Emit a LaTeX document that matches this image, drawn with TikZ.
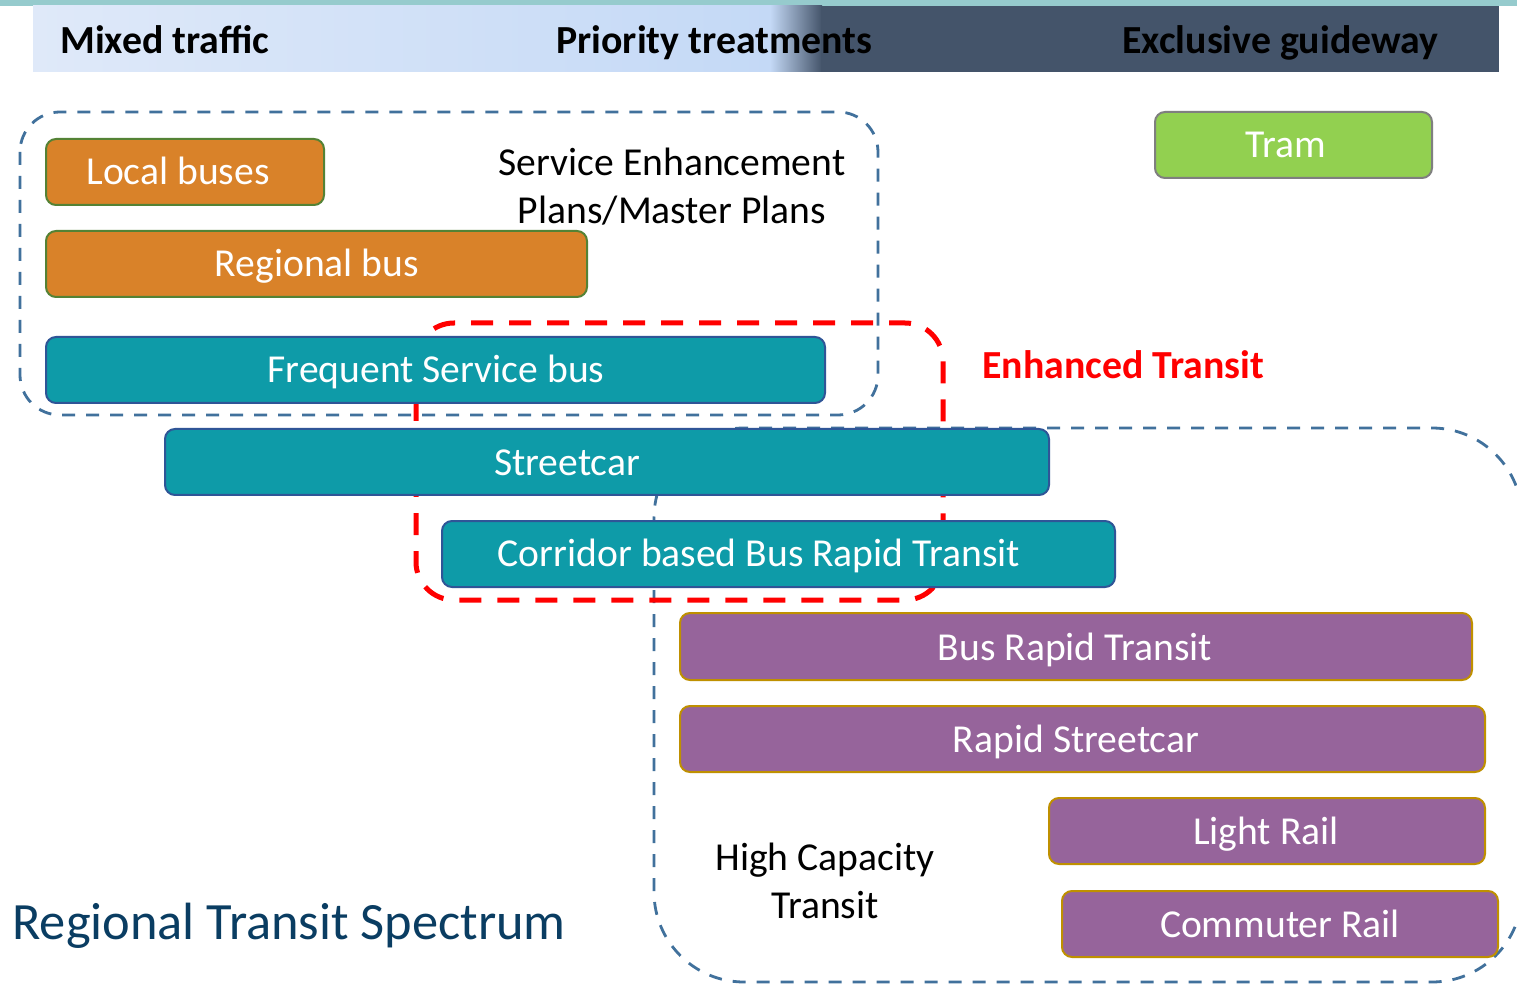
\documentclass[tikz,border=0pt]{standalone}
\usepackage{fontspec}
\setmainfont{Carlito}
\usetikzlibrary{fit}
\definecolor{hdrtop}{RGB}{150,203,205}
\definecolor{hdrA}{RGB}{223,233,249}
\definecolor{hdrB}{RGB}{196,217,246}
\definecolor{hdrdark}{RGB}{68,84,106}
\definecolor{dashblue}{RGB}{65,113,156}
\definecolor{orfill}{RGB}{217,130,41}
\definecolor{orline}{RGB}{84,130,53}
\definecolor{tlfill}{RGB}{14,155,168}
\definecolor{tlline}{RGB}{47,85,151}
\definecolor{pufill}{RGB}{150,100,155}
\definecolor{puline}{RGB}{191,144,0}
\definecolor{grfill}{RGB}{146,208,80}
\definecolor{grline}{RGB}{127,127,127}
\definecolor{titleblue}{RGB}{10,61,98}
\tikzset{
  modebox/.style={rounded corners=5pt, line width=1pt, inner sep=0pt},
  orbox/.style={modebox, fill=orfill, draw=orline},
  tlbox/.style={modebox, fill=tlfill, draw=tlline},
  pubox/.style={modebox, fill=pufill, draw=puline},
  grbox/.style={modebox, fill=grfill, draw=grline},
  boxtxt/.style={text=white, inner sep=0pt, anchor=base, font=\fontsize{19.8}{24}\selectfont},
  hdrtxt/.style={inner sep=0pt, anchor=base west, font=\fontsize{19.9}{24}\selectfont\bfseries},
  plaintxt/.style={inner sep=0pt, align=center, font=\fontsize{19.8}{24}\selectfont},
  bluedash/.style={draw=dashblue, line width=1.4pt, dash pattern=on 6.5pt off 5.5pt},
  reddash/.style={draw=red, line width=2.5pt, dash pattern=on 11pt off 8pt}
}
\begin{document}
\begin{tikzpicture}[x=0.5pt,y=-0.5pt]
\useasboundingbox (0,0) rectangle (1517,984);
\fill[white] (0,0) rectangle (1517,984);
% header band
\fill[hdrtop] (0,0) rectangle (1517,6);
\shade[left color=hdrA, right color=hdrB] (33,6) rectangle (772,72);
\shade[left color=hdrB, right color=hdrdark] (770,6) rectangle (822,72);
\fill[hdrdark] (821,6) rectangle (1499,72);
\node[hdrtxt] (hmix) at (60,54) {Mixed traffic};
\node[hdrtxt] (hpri) at (556,54) {Priority treatments};
\node[hdrtxt] (hexc) at (1122,54) {Exclusive guideway};
% groups
\draw[bluedash, rounded corners=45pt] (654,428) rectangle (1522,982);
\draw[reddash, rounded corners=19pt] (416,323) rectangle (943,600);
\draw[bluedash, rounded corners=20pt] (20,112) rectangle (878,415);
% boxes
\node[orbox, fit={(46,139)(324,205)}] (lb) {};
\node[boxtxt] (lbt) at (178,185) {Local buses};
\node[orbox, fit={(46,231)(587,297)}] (rb) {};
\node[boxtxt] (rbt) at (317,277) {Regional bus};
\node[tlbox, fit={(46,337)(825,403)}] (fs) {};
\node[boxtxt] (fst) at (436,383) {Frequent Service bus};
\node[tlbox, fit={(165,429)(1049,495)}] (sc) {};
\node[boxtxt] (sct) at (567,475) {Streetcar};
\node[tlbox, fit={(442,521)(1115,587)}] (cb) {};
\node[boxtxt] (cbt) at (759,567) {Corridor based Bus Rapid Transit};
\node[pubox, fit={(680,613)(1472,680)}] (brt) {};
\node[boxtxt] (brtt) at (1075,660) {Bus Rapid Transit};
\node[pubox, fit={(680,706)(1485,772)}] (rs) {};
\node[boxtxt] (rst) at (1076,752) {Rapid Streetcar};
\node[pubox, fit={(1049,798)(1485,864)}] (lr) {};
\node[boxtxt] (lrt) at (1266,844) {Light Rail};
\node[pubox, fit={(1062,891)(1498,957)}] (cr) {};
\node[boxtxt] (crt) at (1280,937) {Commuter Rail};
\node[grbox, fit={(1155,112)(1432,178)}] (tr) {};
\node[boxtxt] (trt) at (1286,158) {Tram};
% labels
\node[plaintxt] (sep) at (672,187) {Service Enhancement\\Plans/Master Plans};
\node[plaintxt] (hct) at (825,881) {High Capacity\\Transit};
\node[hdrtxt, text=red] (et) at (982,379) {Enhanced Transit};
\node[inner sep=0pt, anchor=base west, text=titleblue, font=\fontsize{26.2}{30}\selectfont] (title) at (12,939) {Regional Transit Spectrum};
\end{tikzpicture}
\end{document}
